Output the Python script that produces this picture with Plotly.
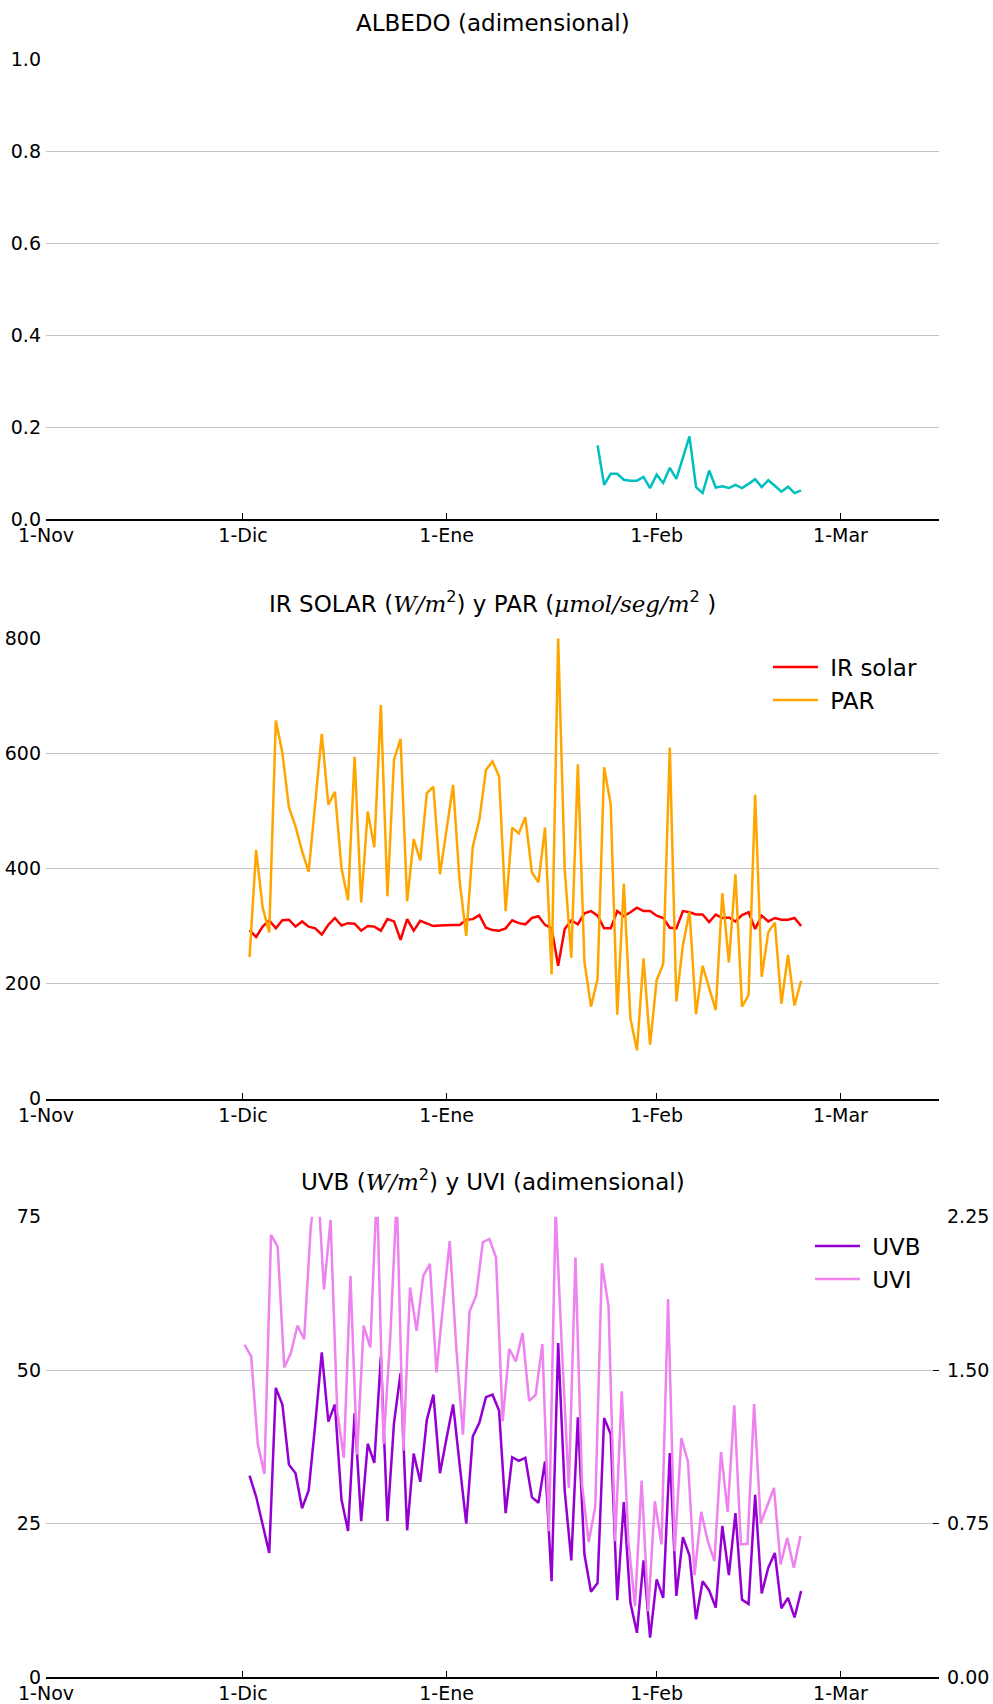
import numpy as np
import plotly.graph_objects as go

# x axis: days counted from 1 November
tick_days = [0, 30, 61, 93, 121]
tick_labels = ["1-Nov", "1-Dic", "1-Ene", "1-Feb", "1-Mar"]

days = list(range(31, 116))
albedo_days = list(range(84, 116))
uvi_days = np.linspace(30.24, 114.9, 85)

albedo = [0.161, 0.075, 0.099, 0.099, 0.086, 0.084, 0.084, 0.092, 0.068, 0.097,
          0.079, 0.112, 0.088, 0.134, 0.180, 0.070, 0.057, 0.106, 0.069, 0.072,
          0.068, 0.075, 0.068, 0.077, 0.087, 0.070, 0.085, 0.073, 0.060, 0.071,
          0.057, 0.063]

ir_solar = [293, 281, 299, 310, 296, 310, 311, 299, 308, 299,
            296, 285, 302, 314, 301, 305, 304, 292, 300, 299,
            292, 312, 308, 276, 312, 292, 309, 305, 300, 301,
            302, 302, 302, 311, 312, 319, 297, 293, 292, 296,
            310, 305, 303, 314, 317, 302, 296, 231, 295, 310,
            303, 322, 326, 318, 296, 296, 326, 317, 324, 332,
            326, 326, 318, 314, 297, 296, 326, 324, 320, 320,
            307, 320, 314, 315, 308, 319, 324, 295, 318, 308,
            314, 311, 311, 314, 300]

par = [246, 432, 332, 289, 657, 601, 506, 473, 430, 394,
       513, 634, 511, 533, 401, 345, 594, 341, 499, 437,
       684, 352, 589, 625, 343, 451, 414, 531, 542, 390,
       467, 545, 377, 283, 438, 485, 571, 586, 560, 326,
       471, 461, 489, 393, 376, 471, 216, 800, 398, 245,
       581, 238, 160, 208, 576, 512, 146, 374, 140, 84,
       244, 94, 206, 234, 610, 169, 267, 325, 147, 231,
       192, 154, 357, 237, 390, 160, 180, 528, 212, 289,
       306, 165, 250, 162, 205]

uvb = [32.8, 29.4, 24.8, 20.2, 47.1, 44.4, 34.6, 33.2, 27.5, 30.4,
       41.1, 52.9, 41.6, 44.4, 28.9, 23.8, 43.0, 25.4, 38.0, 34.9,
       52.2, 25.4, 41.4, 49.5, 23.9, 36.4, 31.8, 41.9, 46.0, 33.2,
       38.9, 44.4, 34.6, 25.0, 39.2, 41.4, 45.6, 46.0, 43.4, 26.7,
       35.8, 35.2, 35.7, 29.3, 28.4, 35.1, 15.6, 54.4, 30.3, 19.0,
       42.3, 20.0, 13.9, 15.3, 42.2, 39.6, 12.5, 28.5, 12.1, 7.2,
       19.0, 6.4, 15.9, 12.9, 36.5, 13.2, 22.8, 19.8, 9.4, 15.6,
       14.1, 11.3, 24.6, 16.6, 26.7, 12.6, 11.9, 29.7, 13.6, 17.8,
       20.2, 11.2, 12.9, 9.7, 14.0]

uvi = [1.624, 1.567, 1.139, 0.992, 2.161, 2.104, 1.513, 1.583, 1.718, 1.651,
       2.200, 2.450, 1.895, 2.234, 1.298, 1.071, 1.961, 1.087, 1.718, 1.611,
       2.400, 1.139, 1.650, 2.350, 1.106, 1.904, 1.692, 1.961, 2.019, 1.489,
       1.819, 2.131, 1.607, 1.184, 1.786, 1.865, 2.125, 2.141, 2.050, 1.250,
       1.604, 1.542, 1.681, 1.350, 1.380, 1.627, 0.713, 2.280, 1.575, 0.924,
       2.050, 0.940, 0.660, 0.835, 2.022, 1.811, 0.664, 1.396, 0.664, 0.347,
       0.960, 0.322, 0.859, 0.648, 1.848, 0.615, 1.168, 1.054, 0.498, 0.807,
       0.664, 0.566, 1.100, 0.807, 1.328, 0.648, 0.651, 1.334, 0.753, 0.843,
       0.924, 0.550, 0.680, 0.534, 0.691]

FONT = "DejaVu Sans"
SERIF = "DejaVu Serif"
GRID = "#c4c4c4"
LW = 2.5
TICK = 19
NB = "\u00a0"


def math(txt):
    return '<span style="font-family:%s"><i>%s</i></span>' % (SERIF, txt)


titles = [
    "ALBEDO (adimensional)",
    "IR SOLAR (" + math("W/m") + "<sup>2</sup>) y PAR ("
    + math("μmol/seg/m") + "<sup>2</sup> )",
    "UVB (" + math("W/m") + "<sup>2</sup>) y UVI (adimensional)",
]

domains = [[0.7155, 1.0], [0.3574, 0.6420], [0.0, 0.2845]]

fig = go.Figure()

fig.add_trace(go.Scatter(x=albedo_days, y=albedo, mode="lines",
                         line=dict(color="#00bfbf", width=LW),
                         xaxis="x", yaxis="y", showlegend=False))
fig.add_trace(go.Scatter(x=days, y=ir_solar, mode="lines", name=NB + "IR solar",
                         line=dict(color="red", width=LW),
                         xaxis="x2", yaxis="y2", legend="legend"))
fig.add_trace(go.Scatter(x=days, y=par, mode="lines", name=NB + "PAR",
                         line=dict(color="orange", width=LW),
                         xaxis="x2", yaxis="y2", legend="legend"))
fig.add_trace(go.Scatter(x=days, y=uvb, mode="lines", name=NB + "UVB",
                         line=dict(color="darkviolet", width=LW),
                         xaxis="x3", yaxis="y3", legend="legend2"))
fig.add_trace(go.Scatter(x=uvi_days, y=uvi, mode="lines", name=NB + "UVI",
                         line=dict(color="violet", width=LW),
                         xaxis="x3", yaxis="y4", legend="legend2"))

xcommon = dict(range=[0, 136], tickvals=tick_days, ticktext=tick_labels,
               ticks="inside", ticklen=6, tickwidth=1, tickcolor="black",
               showline=True, linecolor="black", linewidth=2,
               showgrid=False, zeroline=False, ticklabelstandoff=-2,
               tickfont=dict(family=FONT, size=TICK, color="black"))
ycommon = dict(showgrid=True, gridcolor=GRID, gridwidth=1, zeroline=False,
               showline=False, ticks="", ticklabelstandoff=4,
               tickfont=dict(family=FONT, size=TICK, color="black"))
legcommon = dict(xanchor="left", yanchor="top", itemwidth=45,
                 font=dict(family=FONT, size=23, color="black"),
                 bgcolor="rgba(0,0,0,0)")

fig.update_layout(
    xaxis=dict(xcommon, domain=[0, 1], anchor="y"),
    xaxis2=dict(xcommon, domain=[0, 1], anchor="y2"),
    xaxis3=dict(xcommon, domain=[0, 1], anchor="y3"),
    yaxis=dict(ycommon, domain=domains[0], range=[0, 1], dtick=0.2,
               tickformat=".1f", anchor="x"),
    yaxis2=dict(ycommon, domain=domains[1], range=[0, 800], dtick=200,
                anchor="x2"),
    yaxis3=dict(ycommon, domain=domains[2], range=[0, 75], dtick=25,
                anchor="x3"),
    yaxis4=dict(range=[0, 2.25], tickvals=[0, 0.75, 1.5, 2.25],
                tickformat=".2f", overlaying="y3", side="right", anchor="x3",
                showgrid=False, zeroline=False, showline=False,
                ticks="inside", ticklen=6, tickwidth=1, tickcolor="black",
                ticklabelstandoff=7,
                tickfont=dict(family=FONT, size=TICK, color="black")),
    legend=dict(legcommon, x=0.8085, y=0.6375),
    legend2=dict(legcommon, x=0.8555, y=0.2796),
    width=993, height=1704,
    margin=dict(l=46, r=54, t=59, b=27, autoexpand=False),
    paper_bgcolor="white", plot_bgcolor="white",
    font=dict(family=FONT, color="black"),
)

for title, dom in zip(titles, domains):
    fig.add_annotation(text=title, xref="paper", yref="paper", x=0.5, y=dom[1],
                       xanchor="center", yanchor="middle", yshift=36.5,
                       showarrow=False,
                       font=dict(family=FONT, size=23, color="black"))

# the page body has an 8px margin by default; drop it so the figure fills the window
fig.write_html("out.html", config={"displayModeBar": False},
               post_script="document.body.style.margin='0px';")
